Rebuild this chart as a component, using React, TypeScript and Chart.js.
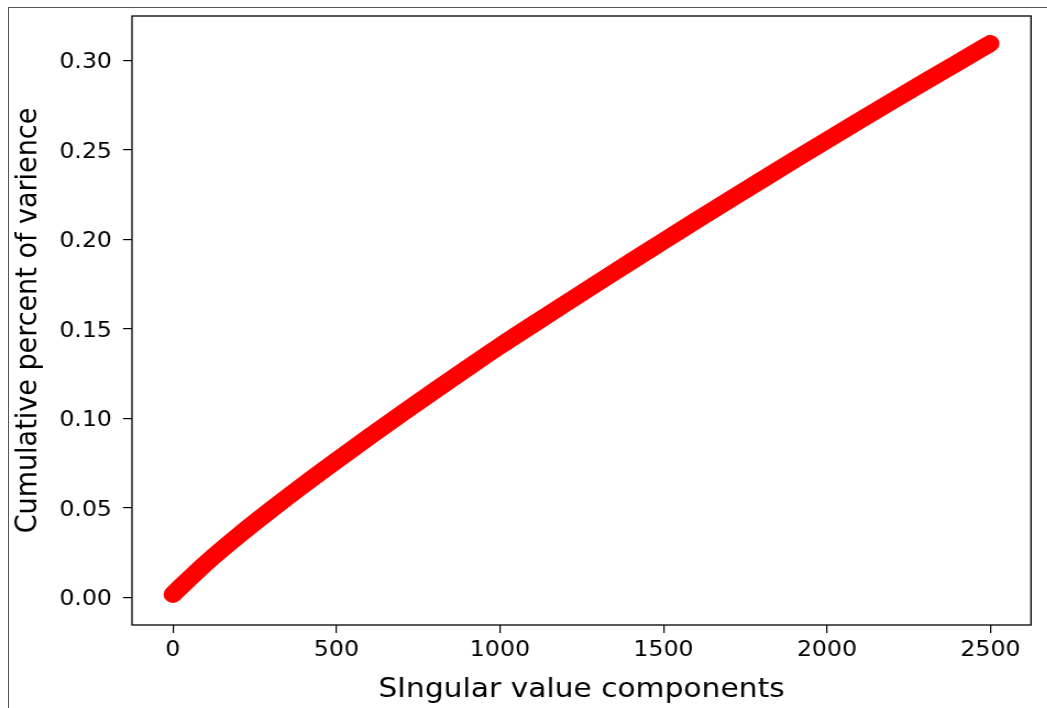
import React, { useEffect, useRef } from "react";
import { Chart, registerables } from "chart.js";

Chart.register(...registerables);

// Number of singular value components (x) and cumulative explained variance (y)
const components = [0, 100, 200, 300, 400, 500, 600, 700, 800, 900, 1000, 1100, 1200, 1300, 1400, 1500, 1600, 1700, 1800, 1900, 2000, 2100, 2200, 2300, 2400, 2499];
const cumulativeVariance = [0.0017, 0.019, 0.0345, 0.049, 0.063, 0.0765, 0.0897, 0.1027, 0.1155, 0.1281, 0.1405, 0.1524, 0.1642, 0.1759, 0.1876, 0.1991, 0.2106, 0.2219, 0.2332, 0.2444, 0.2555, 0.2665, 0.2774, 0.2882, 0.2989, 0.3095];

const xTicks = [0, 500, 1000, 1500, 2000, 2500];
const yTicks = [0, 0.05, 0.1, 0.15, 0.2, 0.25, 0.3];

const xLabel = "SIngular value components";
const yLabel = "Cumulative percent of varience";

const STRETCH = 1.1;
const W = 952;
const H = 708;

export default function App() {
  const ref = useRef<HTMLCanvasElement>(null);

  useEffect(() => {
    if (!ref.current) return;
    const frame = {
      id: "frame",
      afterDatasetsDraw(chart: any) {
        const { ctx, chartArea: a } = chart;
        ctx.save();
        ctx.strokeStyle = "#000";
        ctx.lineWidth = 1.3;
        ctx.strokeRect(a.left, a.top, a.right - a.left, a.bottom - a.top);
        ctx.restore();
      },
    };
    const font = { family: "'DejaVu Sans', sans-serif" };
    const chart = new Chart(ref.current, {
      type: "line",
      data: {
        datasets: [
          {
            data: components.map((x, i) => ({ x, y: cumulativeVariance[i] })),
            borderColor: "#ff0000",
            backgroundColor: "#ff0000",
            borderWidth: 17,
            borderCapStyle: "round",
            borderJoinStyle: "round",
            pointRadius: 0,
            cubicInterpolationMode: "monotone",
            fill: false,
          },
        ],
      },
      options: {
        animation: false,
        responsive: false,
        devicePixelRatio: 1,
        layout: { padding: { left: 0, top: 16, right: 14.7, bottom: 0 } },
        plugins: { legend: { display: false }, tooltip: { enabled: false } },
        scales: {
          x: {
            type: "linear",
            min: -125,
            max: 2624,
            afterFit: (s: any) => {
              s.height = 83;
              s.paddingLeft = 0;
              s.paddingRight = 0;
            },
            afterBuildTicks: (s: any) => {
              s.ticks = xTicks.map((v) => ({ value: v }));
            },
            border: { display: false },
            grid: { drawOnChartArea: false, drawTicks: true, tickLength: 8, color: "#000", lineWidth: 1.2 },
            ticks: {
              color: "#000",
              font: { ...font, size: 21.5 },
              padding: 5,
              maxRotation: 0,
              autoSkip: false,
              callback: (v: any) => String(v),
            },
            title: {
              display: true,
              text: xLabel,
              color: "#000",
              font: { ...font, size: 27 },
              padding: { top: 0, bottom: 2 },
            },
          },
          y: {
            type: "linear",
            min: -0.0154,
            max: 0.3249,
            afterFit: (s: any) => {
              s.width = 120;
              s.paddingTop = 0;
              s.paddingBottom = 0;
            },
            afterBuildTicks: (s: any) => {
              s.ticks = yTicks.map((v) => ({ value: v }));
            },
            border: { display: false },
            grid: { drawOnChartArea: false, drawTicks: true, tickLength: 8.2, color: "#000", lineWidth: 1.2 },
            ticks: {
              color: "#000",
              font: { ...font, size: 21.5 },
              padding: 10,
              labelOffset: 2,
              autoSkip: false,
              callback: (v: any) => Number(v).toFixed(2),
            },
            title: {
              display: true,
              text: yLabel,
              color: "#000",
              font: { ...font, size: 27 },
              padding: { top: 10, bottom: 0 },
            },
          },
        },
      },
      plugins: [frame],
    } as any);
    return () => chart.destroy();
  }, []);

  return (
    <div style={{ position: "fixed", left: 0, top: 0, width: 1047, height: 708, background: "#fff", overflow: "hidden" }}>
      <div
        style={{
          position: "absolute",
          left: 8,
          top: 7,
          width: 1047,
          height: 708,
          borderLeft: "1px solid #555",
          borderTop: "1px solid #555",
        }}
      />
      <div style={{ position: "absolute", left: 0, top: 0, width: W, height: H, transform: `scaleX(${STRETCH})`, transformOrigin: "0 0" }}>
        <canvas ref={ref} width={W} height={H} style={{ width: W, height: H, display: "block" }} />
      </div>
    </div>
  );
}
